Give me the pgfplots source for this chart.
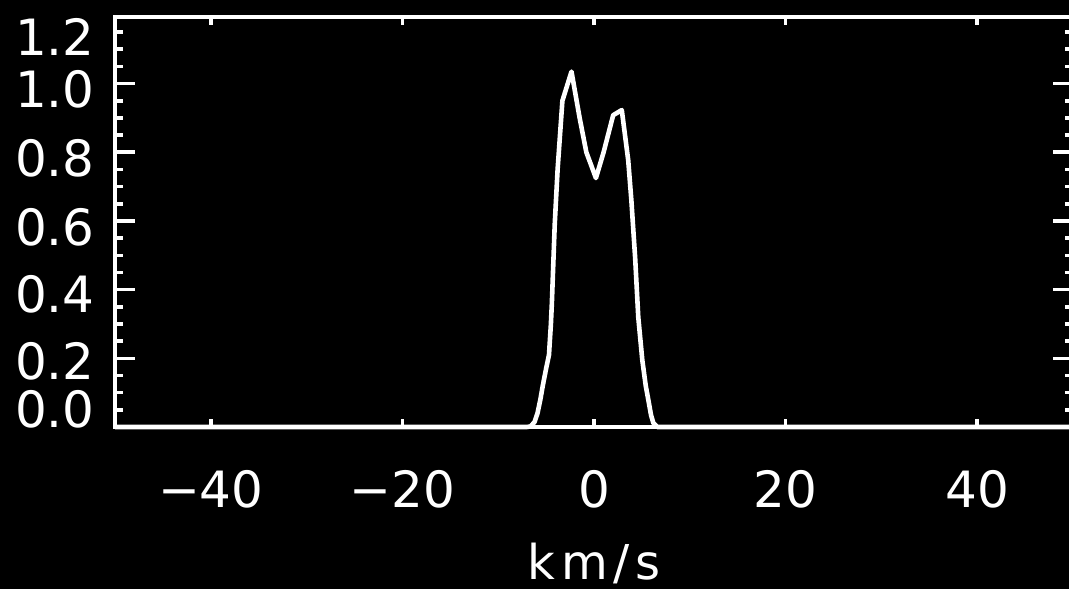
\documentclass[border=0pt]{standalone}
\usepackage{fontspec}
\setmainfont{DejaVu Sans}
\usepackage{pgfplots}
\pgfplotsset{compat=1.18}
\begin{document}
\fontsize{25}{30}\selectfont
\begin{tikzpicture}
\path[use as bounding box, fill=black] (-57.5pt,-81pt) rectangle (477pt,213.5pt);
\begin{axis}[
  at={(0pt,0pt)}, anchor=south west,
  scale only axis, width=479pt, height=205pt,
  xmin=-50, xmax=50, ymin=0, ymax=1.194,
  clip=false,
  axis line style={white, line width=2pt},
  every tick/.style={white, line width=1.8pt},
  tick align=inside,
  major tick length=10pt, minor tick length=4pt,
  xtick={-40,-20,0,20,40},
  xticklabels={−40,−20,0,20,40},
  minor xtick={-40,-20,0,20,40},
  major x tick style={draw=none},
  xticklabel style={white, anchor=north, inner sep=0pt, yshift=-21.5pt},
  ytick={0,0.2,0.4,0.6,0.8,1.0},
  yticklabels={},
  minor ytick={0.05,0.1,0.15,0.25,0.3,0.35,0.45,0.5,0.55,0.65,0.7,0.75,0.85,0.9,0.95,1.05,1.1,1.15},
  extra y ticks={0.052,0.192,0.387,0.582,0.783,0.984,1.135},
  extra y tick labels={0.0,0.2,0.4,0.6,0.8,1.0,1.2},
  extra y tick style={tick style={draw=none}},
  yticklabel style={white, anchor=east, inner sep=0pt, xshift=-10pt},
  xlabel={\fontsize{24}{28}\selectfont\addfontfeatures{LetterSpace=12}km/s},
  xlabel style={white, inner sep=0pt, at={(axis description cs:0.5,0)}, anchor=north, yshift=-58pt},
]
\addplot[white, line width=2.3pt, line join=round] coordinates {
(-50,0) (-7,0) (-6.6,0.002) (-6.2,0.015) (-5.9,0.04) (-5.6,0.08) (-5.35,0.12)
(-5.0,0.17) (-4.7,0.21) (-4.5,0.30) (-4.4,0.36)
(-4.1,0.59) (-3.8,0.75) (-3.3,0.95) (-2.35,1.035) (-1.5,0.90) (-0.8,0.80)
(0.2,0.725) (1.0,0.80) (2.0,0.908) (2.9,0.923) (3.57,0.777) (3.9,0.66)
(4.3,0.49) (4.62,0.32) (5.04,0.195) (5.4,0.12) (5.67,0.079) (5.95,0.035) (6.19,0.012) (6.6,0) (50,0)
};
\end{axis}
\end{tikzpicture}
\end{document}
